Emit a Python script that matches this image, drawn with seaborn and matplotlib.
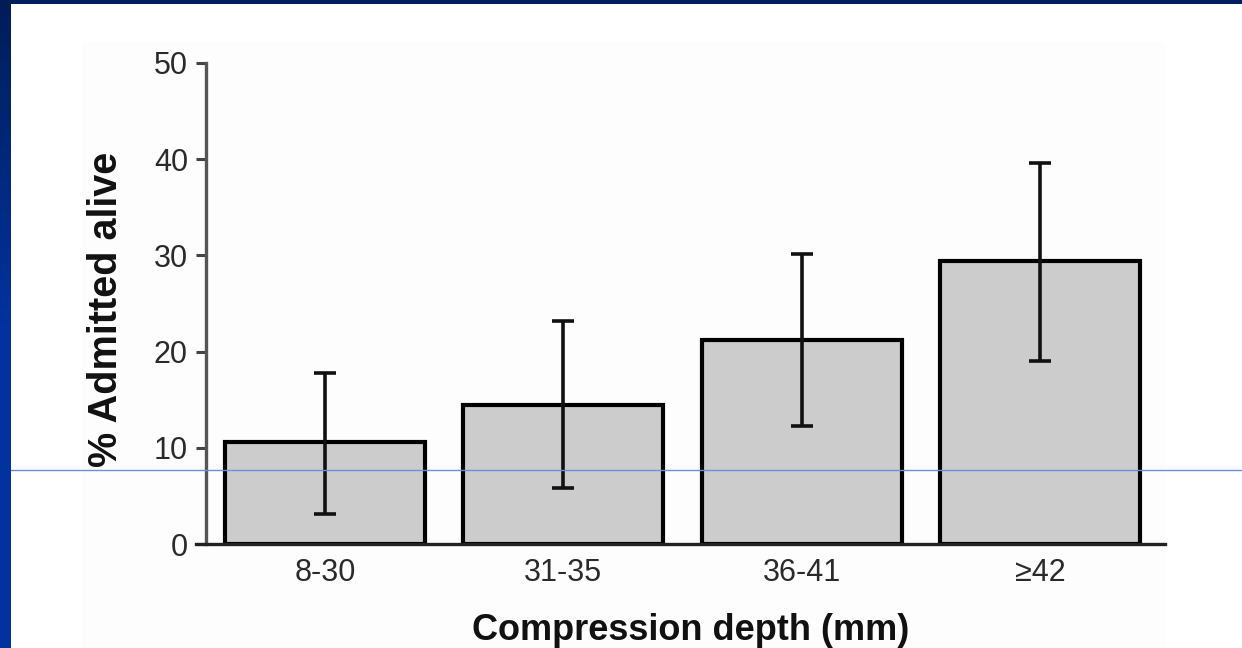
import numpy as np
import pandas as pd
import seaborn as sns
import matplotlib
matplotlib.use("Agg")
import matplotlib.pyplot as plt
from matplotlib.patches import Rectangle
from matplotlib.lines import Line2D
from matplotlib.colors import LinearSegmentedColormap

categories = ["8-30", "31-35", "36-41", "\u226542"]
admitted_alive = [10.6, 14.5, 21.2, 29.4]
err_low = [3.1, 5.8, 12.3, 19.0]
err_high = [17.8, 23.2, 30.1, 39.6]
y_ticks = [0, 10, 20, 30, 40, 50]

sns.set_theme(style="white")
plt.rcParams['font.family'] = ['Liberation Sans', 'DejaVu Sans']

W, H = 1242, 648
fig = plt.figure(figsize=(W / 100, H / 100), dpi=100, facecolor="white")

# slide frame
fig.add_artist(Rectangle((82 / W, 0), (1165 - 82) / W, 1 - 42 / H, transform=fig.transFigure,
                         facecolor="#fdfdfd", edgecolor="none", zorder=0))
fig.add_artist(Rectangle((0, 1 - 4 / H), 1, 4 / H, transform=fig.transFigure,
                         facecolor="#001f5e", edgecolor="none", zorder=0))
gax = fig.add_axes([0, 0, 11 / W, 1])
grad = np.linspace(0, 1, 256).reshape(-1, 1)
cmap = LinearSegmentedColormap.from_list("frame", ["#001d58", "#00339e", "#00339e"])
gax.imshow(grad, aspect="auto", cmap=cmap, extent=[0, 1, 1, 0])
gax.set_axis_off()

# main axes: x from 196 to 1165 px, y from 63 (50) to 544 (0)
left, right, top, bottom = 196, 1165, 63, 544
ax = fig.add_axes([left / W, 1 - bottom / H, (right - left) / W, (bottom - top) / H])
ax.set_facecolor("none")

df = pd.DataFrame({"cat": categories, "val": admitted_alive})
sns.barplot(data=df, x="cat", y="val", color="#cccccc", edgecolor="black",
            linewidth=3, width=0.84, saturation=1, ax=ax, zorder=2)

vals = np.array(admitted_alive)
yerr = np.vstack([vals - np.array(err_low), np.array(err_high) - vals])
ax.errorbar(np.arange(len(categories)), vals, yerr=yerr, fmt="none",
            ecolor="#111111", elinewidth=2.6, capsize=8, capthick=2.6, zorder=3)

ax.set_xlim(-0.542, 3.525)
ax.set_ylim(0, 50)
ax.set_yticks(y_ticks)
ax.set_yticklabels([str(t) for t in y_ticks])

for s in ["top", "right"]:
    ax.spines[s].set_visible(False)
ax.spines["left"].set_position(("axes", 10 / (right - left)))
ax.spines["left"].set_color("#555555")
ax.spines["left"].set_linewidth(2.4)
ax.spines["bottom"].set_color("#222222")
ax.spines["bottom"].set_linewidth(2.4)
ax.spines["bottom"].set_zorder(4)

ax.tick_params(axis="y", which="major", direction="out", length=7, width=2.2,
               color="#444444", pad=6, labelsize=22, labelcolor="#2a2a2a", left=True)
ax.tick_params(axis="x", length=0, pad=10, labelsize=22, labelcolor="#2a2a2a")

ax.set_xlabel("Compression depth (mm)", fontsize=26, fontweight="bold", color="#111111", labelpad=18)
ax.set_ylabel("% Admitted alive", fontsize=28.5, fontweight="bold", color="#111111")
ax.xaxis.label.set_x(0.51)
ax.yaxis.set_label_coords(-0.0737, 0.487)
ax.grid(False)

# thin blue guide line across the slide
fig.add_artist(Line2D([11 / W, 1], [1 - 470 / H, 1 - 470 / H], transform=fig.transFigure,
                      color="#6d8ed8", linewidth=1, zorder=10))

fig.savefig("out.png", dpi=100, facecolor="white")
